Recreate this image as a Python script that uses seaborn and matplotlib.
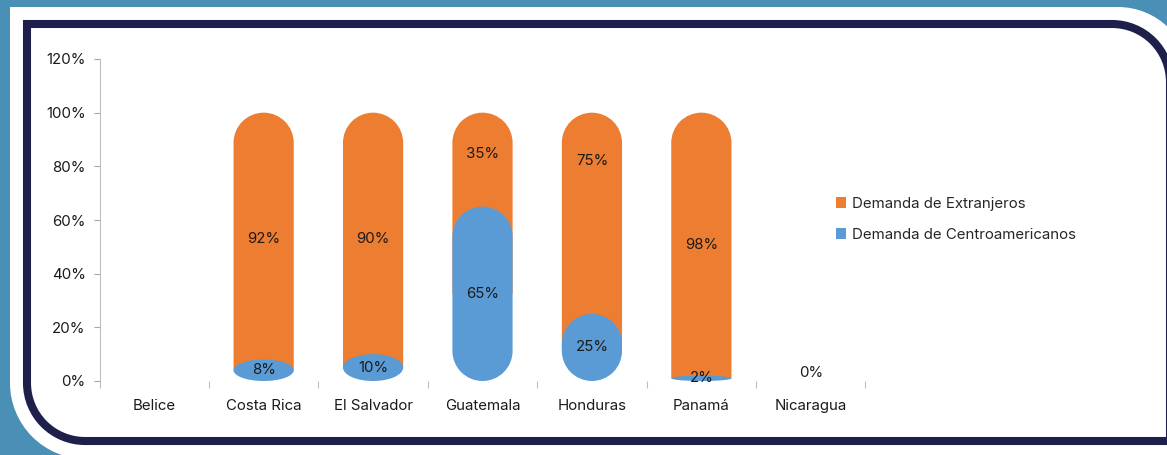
import matplotlib
matplotlib.use("Agg")
import matplotlib.pyplot as plt
import numpy as np
import pandas as pd
import seaborn as sns
from matplotlib.path import Path
from matplotlib.patches import PathPatch, Patch

# datos
paises = ["Belice", "Costa Rica", "El Salvador", "Guatemala", "Honduras", "Panamá", "Nicaragua"]
extranjeros = [np.nan, 92, 90, 35, 75, 98, np.nan]
centroamericanos = [np.nan, 8, 10, 65, 25, 2, 0]

# altura de las etiquetas naranjas (tal como estan colocadas en el original)
pos_etiqueta_ext = [np.nan, 53, 53, 84.5, 82, 50.7, np.nan]

NARANJA = "#ED7D31"
AZUL = "#5B9BD5"
MARINO = "#1F1F4B"
FONDO = "#4A8FB5"
FS = 10.8

W, H = 1167, 455

sns.set_theme(style="white")
plt.rcParams["font.family"] = ["Inter", "DejaVu Sans"]
plt.rcParams["font.size"] = FS


def pill(x0, x1, y0, y1, rx, ry, round_bottom=True):
    cx = (x0 + x1) / 2
    h = y1 - y0
    r = min(ry, h / 2) if round_bottom else min(ry, h)
    top = Path.arc(0, 180)
    verts = list(top.vertices * [rx, r] + [cx, y1 - r])
    codes = list(top.codes)
    if round_bottom:
        bot = Path.arc(180, 360)
        verts += list(bot.vertices * [rx, r] + [cx, y0 + r])
        bc = list(bot.codes)
        bc[0] = Path.LINETO
        codes += bc
    else:
        verts += [[x0, y0], [x1, y0]]
        codes += [Path.LINETO, Path.LINETO]
    verts.append(verts[0])
    codes.append(Path.CLOSEPOLY)
    return Path(np.array(verts), codes)


def frame_path(x0, y0, x1, y1, r_tr, r_bl):
    # rectangulo en pixeles con esquinas superior-derecha e inferior-izquierda redondeadas
    tr = Path.arc(0, 90).vertices * r_tr + [x1 - r_tr, y1 - r_tr]
    bl = Path.arc(180, 270).vertices * r_bl + [x0 + r_bl, y0 + r_bl]
    verts = [[x0, y1]] + list(tr[::-1]) + [[x1, y0]] + list(bl[::-1]) + [[x0, y1]]
    codes = ([Path.MOVETO, Path.LINETO] + [Path.CURVE4] * (len(tr) - 1) + [Path.LINETO, Path.LINETO]
             + [Path.CURVE4] * (len(bl) - 1) + [Path.CLOSEPOLY])
    v = np.array(verts, dtype=float)
    v[:, 0] /= W
    v[:, 1] /= H
    return Path(v, codes)


df = pd.DataFrame({
    "pais": paises,
    "ext": extranjeros,
    "cen": centroamericanos,
})
df["total"] = df["ext"] + df["cen"]

fig = plt.figure(figsize=(W / 100, H / 100), dpi=100)
fig.patch.set_facecolor(FONDO)

# marco decorativo
fig.add_artist(PathPatch(frame_path(10, -4, 1190, H - 7, 72, 76),
                         transform=fig.transFigure, facecolor="white", edgecolor="none", zorder=-3))
fig.add_artist(PathPatch(frame_path(27, H - 441, 1170, H - 24, 58, 58),
                         transform=fig.transFigure, facecolor="white", edgecolor=MARINO, lw=5.8,
                         zorder=-2))

ax = fig.add_axes([99.5 / W, 1 - 381 / H, 766 / W, (381 - 59) / H])
ax.set_facecolor("none")

sns.barplot(data=df, x="pais", y="total", color=NARANJA, width=0.55, ax=ax)
n_ext = len(ax.patches)
sns.barplot(data=df, x="pais", y="cen", color=AZUL, width=0.55, ax=ax)

ax.set_xlim(-0.5, len(paises) - 0.5)
ax.set_ylim(0, 120)

p0 = ax.transData.transform((0, 0))
p1 = ax.transData.transform((1, 1))
px_x, px_y = p1[0] - p0[0], p1[1] - p0[1]

bars = list(ax.patches)
for b in bars:
    b.remove()

for i, b in enumerate(bars):
    h = b.get_height()
    if not np.isfinite(h) or h <= 0:
        continue
    x0, w = b.get_x(), b.get_width()
    rx = w / 2
    ry = rx * px_x / px_y
    if i < n_ext:
        k = int(round(x0 + w / 2))
        base = centroamericanos[k] / 2
        path = pill(x0, x0 + w, base, h, rx, ry, round_bottom=False)
        ax.add_patch(PathPatch(path, facecolor=NARANJA, edgecolor="none", zorder=2))
    else:
        path = pill(x0, x0 + w, 0, h, rx, ry)
        ax.add_patch(PathPatch(path, facecolor=AZUL, edgecolor="none", zorder=3))

# etiquetas
for i in range(len(paises)):
    if np.isfinite(extranjeros[i]):
        ax.text(i, pos_etiqueta_ext[i], f"{extranjeros[i]:.0f}%", ha="center", va="center",
                fontsize=FS, color="#1a1a1a", zorder=5)
    if np.isfinite(centroamericanos[i]):
        v = centroamericanos[i]
        ax.text(i, v / 2 if v > 0 else 3, f"{v:.0f}%", ha="center", va="center",
                fontsize=FS, color="#1a1a1a", zorder=5)

ax.set_xlabel("")
ax.set_ylabel("")
ax.set_yticks(np.arange(0, 121, 20))
ax.set_yticklabels([f"{v}%" for v in range(0, 121, 20)])
ax.set_xticks(range(len(paises)))
ax.set_xticklabels(paises)
ax.set_xticks(np.arange(-0.5, len(paises)), minor=True)
ax.tick_params(axis="x", which="major", length=0, pad=13, labelsize=FS, colors="#1a1a1a")
ax.tick_params(axis="x", which="minor", bottom=True, length=5, width=0.8, color="#bfbfbf")
ax.tick_params(axis="y", left=True, length=4, width=0.8, color="#a6a6a6", pad=6,
               labelsize=FS, labelcolor="#1a1a1a")
for s in ["top", "right", "bottom"]:
    ax.spines[s].set_visible(False)
ax.spines["left"].set_color("#bfbfbf")
ax.spines["left"].set_linewidth(0.8)
ax.grid(False)

handles = [Patch(facecolor=NARANJA, edgecolor="none"), Patch(facecolor=AZUL, edgecolor="none")]
fig.legend(handles, ["Demanda de Extranjeros", "Demanda de Centroamericanos"],
           loc="upper left", bbox_to_anchor=(828 / W, 1 - 189 / H), frameon=False,
           borderpad=0, handlelength=0.7, handleheight=0.7, handletextpad=0.4,
           labelspacing=1.15, fontsize=FS)

fig.savefig("out.png", dpi=100, facecolor=fig.get_facecolor())
